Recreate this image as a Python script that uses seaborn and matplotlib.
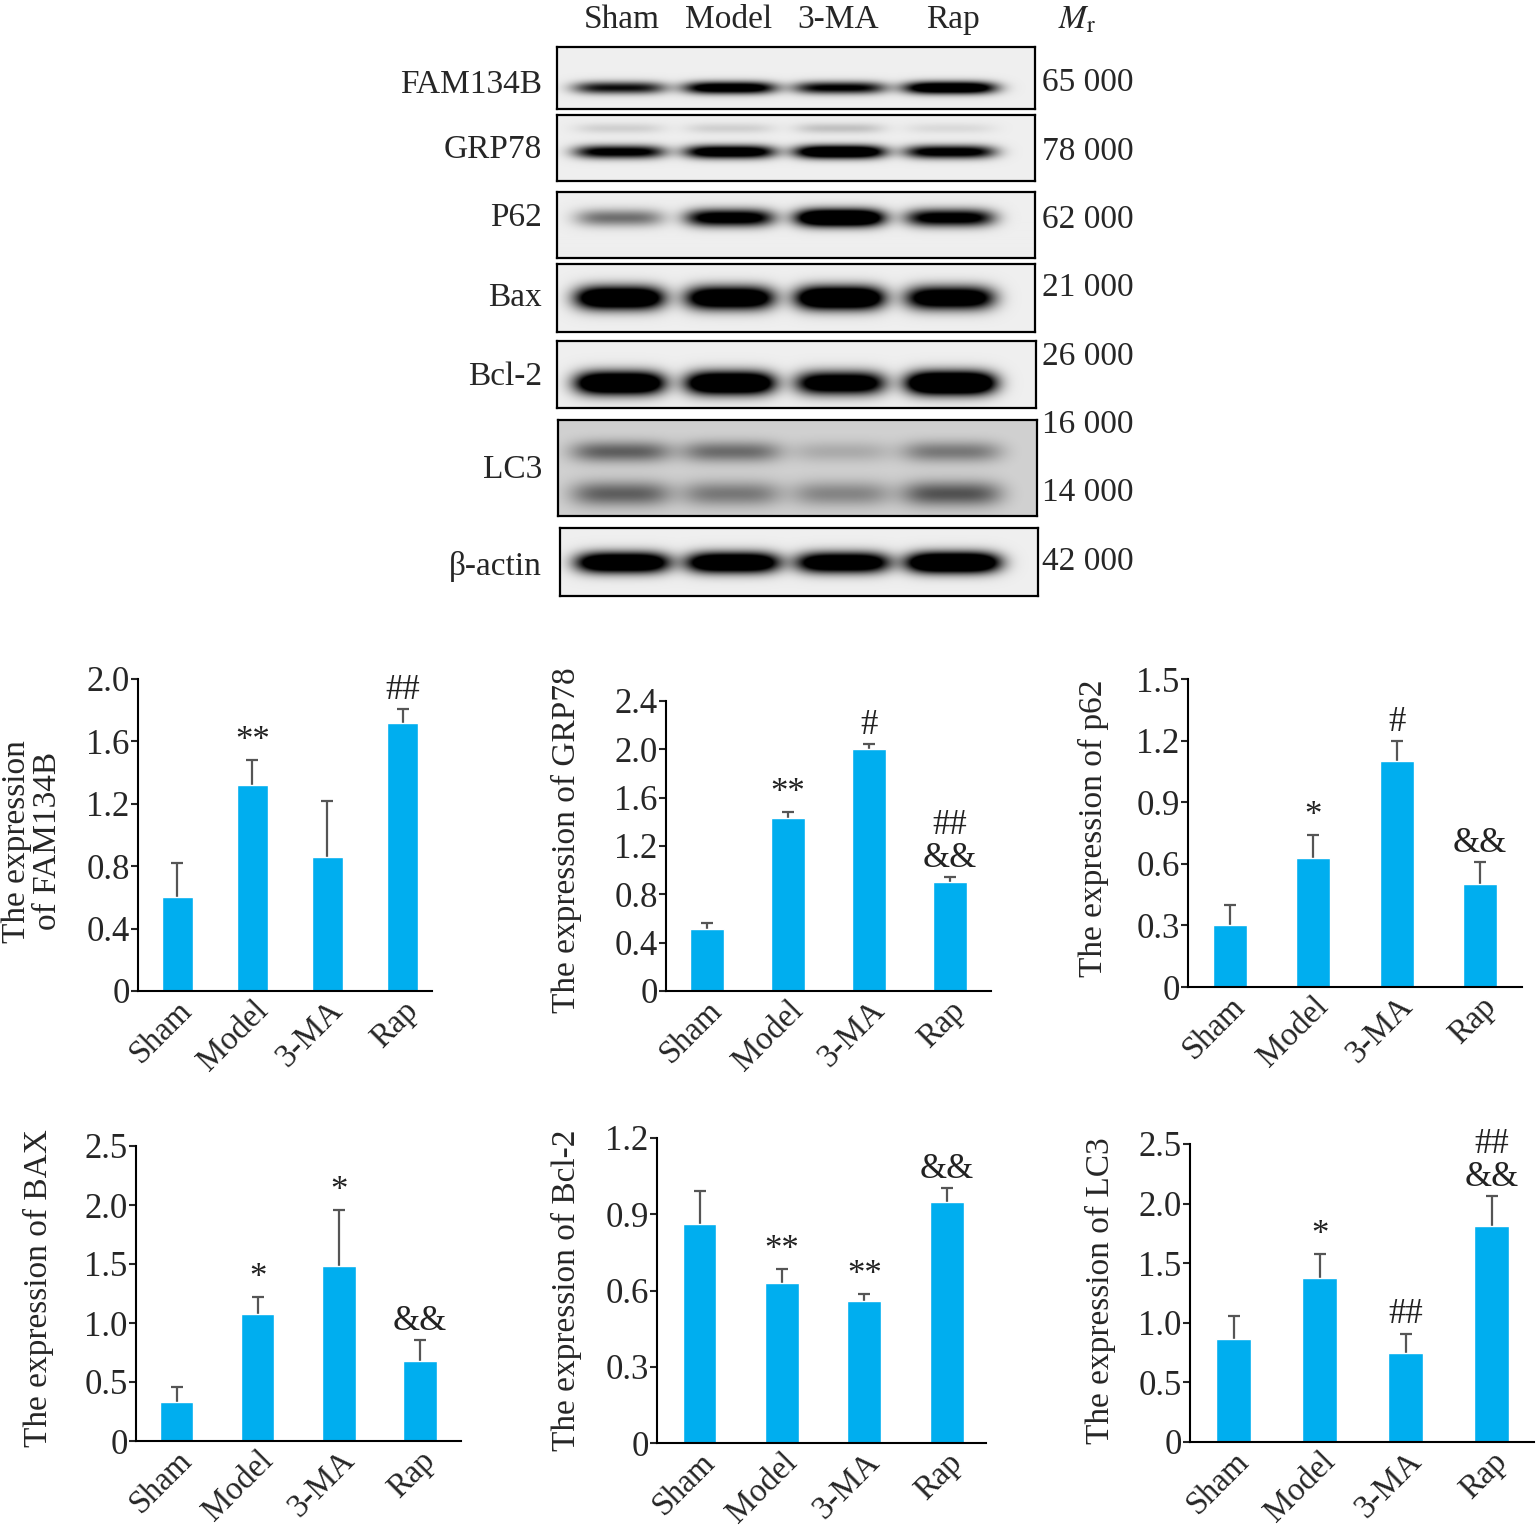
import numpy as np
import pandas as pd
import matplotlib
matplotlib.use("Agg")
import matplotlib.pyplot as plt
from matplotlib.transforms import ScaledTranslation
import seaborn as sns

# ---------------- data ----------------
groups = ["Sham", "Model", "3-MA", "Rap"]

# western blot
blot_proteins = ["FAM134B", "GRP78", "P62", "Bax", "Bcl-2", "LC3", "β-actin"]
mr_labels = ["65 000", "78 000", "62 000", "21 000", "26 000", "16 000", "14 000", "42 000"]
band_fam134b = [0.9, 1.25, 1.0, 1.4]
band_grp78 = [1.1, 1.3, 1.5, 1.15]
band_grp78_upper = [0.12, 0.12, 0.18, 0.08]
band_p62 = [0.5, 1.2, 1.7, 1.15]
band_bax = [1.6, 1.5, 1.7, 1.4]
band_bcl2 = [1.7, 1.7, 1.4, 1.9]
band_lc3_i = [0.45, 0.4, 0.15, 0.35]
band_lc3_ii = [0.45, 0.35, 0.3, 0.5]
band_actin = [1.6, 1.6, 1.5, 1.8]

# quantification
fam134b_mean = [0.60, 1.32, 0.86, 1.72]
fam134b_err = [0.22, 0.16, 0.36, 0.09]
fam134b_sig = ["", "**", "", "##"]
fam134b_ticks = [0, 0.4, 0.8, 1.2, 1.6, 2.0]
fam134b_ticklabels = ["0", "0.4", "0.8", "1.2", "1.6", "2.0"]

grp78_mean = [0.51, 1.43, 2.00, 0.90]
grp78_err = [0.05, 0.05, 0.04, 0.04]
grp78_sig = ["", "**", "#", "##\n&&"]
grp78_ticks = [0, 0.4, 0.8, 1.2, 1.6, 2.0, 2.4]
grp78_ticklabels = ["0", "0.4", "0.8", "1.2", "1.6", "2.0", "2.4"]

p62_mean = [0.30, 0.63, 1.10, 0.50]
p62_err = [0.10, 0.11, 0.10, 0.11]
p62_sig = ["", "*", "#", "&&"]
p62_ticks = [0, 0.3, 0.6, 0.9, 1.2, 1.5]
p62_ticklabels = ["0", "0.3", "0.6", "0.9", "1.2", "1.5"]

bax_mean = [0.33, 1.08, 1.48, 0.68]
bax_err = [0.13, 0.14, 0.48, 0.175]
bax_sig = ["", "*", "*", "&&"]
bax_ticks = [0, 0.5, 1.0, 1.5, 2.0, 2.5]
bax_ticklabels = ["0", "0.5", "1.0", "1.5", "2.0", "2.5"]

bcl2_mean = [0.86, 0.63, 0.56, 0.95]
bcl2_err = [0.13, 0.056, 0.025, 0.053]
bcl2_sig = ["", "**", "**", "&&"]
bcl2_ticks = [0, 0.3, 0.6, 0.9, 1.2]
bcl2_ticklabels = ["0", "0.3", "0.6", "0.9", "1.2"]

lc3_mean = [0.86, 1.38, 0.75, 1.81]
lc3_err = [0.20, 0.20, 0.16, 0.25]
lc3_sig = ["", "*", "##", "##\n&&"]
lc3_ticks = [0, 0.5, 1.0, 1.5, 2.0, 2.5]
lc3_ticklabels = ["0", "0.5", "1.0", "1.5", "2.0", "2.5"]

# ---------------- style ----------------
sns.set_style("ticks")
plt.rcParams["font.family"] = ["Liberation Serif", "DejaVu Serif"]
plt.rcParams["mathtext.fontset"] = "stix"
plt.rcParams["axes.linewidth"] = 1.5

W, H = 1539, 1527
FS = 23.5
FS_Y = 25
BAR = "#00AEEF"
ERR = "#555555"

fig = plt.figure(figsize=(W / 100, H / 100), dpi=100)


def rect(l, t, r, b):
    return [l / W, 1 - b / H, (r - l) / W, (b - t) / H]


def ftext(x, y, s, **kw):
    kw.setdefault("fontsize", 24)
    fig.text(x / W, 1 - y / H, s, **kw)


# ---------------- western blot ----------------
lane_x = np.arange(len(groups))
XL, XR = -0.57, 3.77


def blot(box, bands, bg=0.065):
    ax = fig.add_axes(rect(*box))
    l, t, r, b = box
    nx, ny = int(r - l) * 2, int(b - t) * 2
    xs = np.linspace(XL, XR, nx)[None, :]
    ys = np.linspace(0, 1, ny)[:, None]
    img = np.full((ny, nx), bg)
    for yc, hh, hw, inten in bands:
        for cx, v in zip(lane_x, inten):
            img += v * np.exp(-(np.abs(xs - cx) / hw) ** 4) * np.exp(-((ys - yc) / hh) ** 2)
    ax.imshow(np.clip(img, 0, 1), extent=(XL, XR, 1, 0), aspect="auto",
              cmap="gray_r", vmin=0, vmax=1, interpolation="bilinear")
    ax.set_xlim(XL, XR)
    ax.set_ylim(1, 0)
    ax.set_xticks([])
    ax.set_yticks([])
    for s in ax.spines.values():
        s.set_visible(True)
        s.set_linewidth(1.6)
        s.set_color("black")
    return ax


blot((557, 47, 1035, 109), [(0.66, 0.10, 0.42, band_fam134b)])
blot((557, 115, 1035, 181), [(0.56, 0.10, 0.41, band_grp78), (0.2, 0.08, 0.4, band_grp78_upper)])
blot((557, 192, 1035, 258), [(0.40, 0.13, 0.40, band_p62)])
blot((557, 264, 1035, 332), [(0.50, 0.17, 0.40, band_bax)])
blot((557, 341, 1036, 408), [(0.63, 0.17, 0.40, band_bcl2)])
blot((558, 420, 1037, 516), [(0.33, 0.11, 0.45, band_lc3_i), (0.77, 0.13, 0.45, band_lc3_ii)], bg=0.18)
blot((560, 528, 1038, 596), [(0.51, 0.15, 0.42, band_actin)])

for name, xc in zip(groups, [622, 729, 838, 953]):
    ftext(xc, 20, name, ha="center", va="center")
ftext(1077, 20, r"$M_\mathrm{r}$", ha="center", va="center")

for name, yc in zip(blot_proteins, [85, 150, 218, 298, 377, 470, 566]):
    ftext(542, yc, name, ha="right", va="center")
for lab, yc in zip(mr_labels, [83, 152, 220, 288, 357, 425, 493, 562]):
    ftext(1042, yc, lab, ha="left", va="center")


# ---------------- bar charts ----------------
def bar_panel(box, xlim, means, errs, sigs, ticks, ticklabels, ylabel, label_xy):
    ax = fig.add_axes(rect(*box))
    df = pd.DataFrame({"group": groups, "value": means})
    sns.barplot(data=df, x="group", y="value", ax=ax, color=BAR, width=0.41,
                errorbar=None, saturation=1, zorder=2)
    ax.errorbar(np.arange(len(groups)), means, yerr=errs, fmt="none", ecolor=ERR,
                elinewidth=1.6, capsize=4.5, capthick=1.6, zorder=1)
    for i, (m, e, s) in enumerate(zip(means, errs, sigs)):
        if s:
            ax.annotate(s, (i, m + e), xytext=(0, 1.5), textcoords="offset points",
                        ha="center", va="bottom", fontsize=FS_Y, linespacing=1.0,
                        color="#222222")
    ax.set_xlim(*xlim)
    ax.set_ylim(0, ticks[-1])
    ax.set_yticks(ticks, labels=ticklabels)
    ax.set_xticks(np.arange(len(groups)), labels=groups)
    sns.despine(ax=ax)
    for s in ("left", "bottom"):
        ax.spines[s].set_linewidth(1.5)
        ax.spines[s].set_color("black")
    ax.tick_params(axis="y", direction="out", length=5, width=1.5, labelsize=FS_Y, pad=1)
    ax.tick_params(axis="x", length=0, labelsize=FS, pad=3)
    off = ScaledTranslation(0, 0, fig.dpi_scale_trans)
    for lbl in ax.get_xticklabels():
        lbl.set_rotation(45)
        lbl.set_ha("right")
        lbl.set_va("top")
        lbl.set_rotation_mode("anchor")
        lbl.set_transform(lbl.get_transform() + off)
    ax.set_xlabel("")
    ax.set_ylabel(ylabel, fontsize=24, va="center", ha="center", linespacing=1.0)
    ax.yaxis.set_label_coords(*label_xy)
    return ax


bar_panel((138, 679, 432, 991), (-0.52, 3.39), fam134b_mean, fam134b_err, fam134b_sig,
          fam134b_ticks, fam134b_ticklabels, "The expression\nof FAM134B", (-0.36, 0.48))
bar_panel((666, 701, 991, 991), (-0.506, 3.506), grp78_mean, grp78_err, grp78_sig,
          grp78_ticks, grp78_ticklabels, "The expression of GRP78", (-0.305, 0.52))
bar_panel((1188, 679, 1522, 987), (-0.5, 3.5), p62_mean, p62_err, p62_sig,
          p62_ticks, p62_ticklabels, "The expression of p62", (-0.284, 0.516))
bar_panel((136, 1146, 461, 1441), (-0.5, 3.505), bax_mean, bax_err, bax_sig,
          bax_ticks, bax_ticklabels, "The expression of BAX", (-0.30, 0.52))
bar_panel((657, 1138, 986, 1443), (-0.516, 3.477), bcl2_mean, bcl2_err, bcl2_sig,
          bcl2_ticks, bcl2_ticklabels, "The expression of Bcl-2", (-0.274, 0.5))
bar_panel((1190, 1144, 1534, 1442), (-0.51, 3.49), lc3_mean, lc3_err, lc3_sig,
          lc3_ticks, lc3_ticklabels, "The expression of LC3", (-0.26, 0.507))

fig.savefig("out.png", dpi=100, facecolor="white")
